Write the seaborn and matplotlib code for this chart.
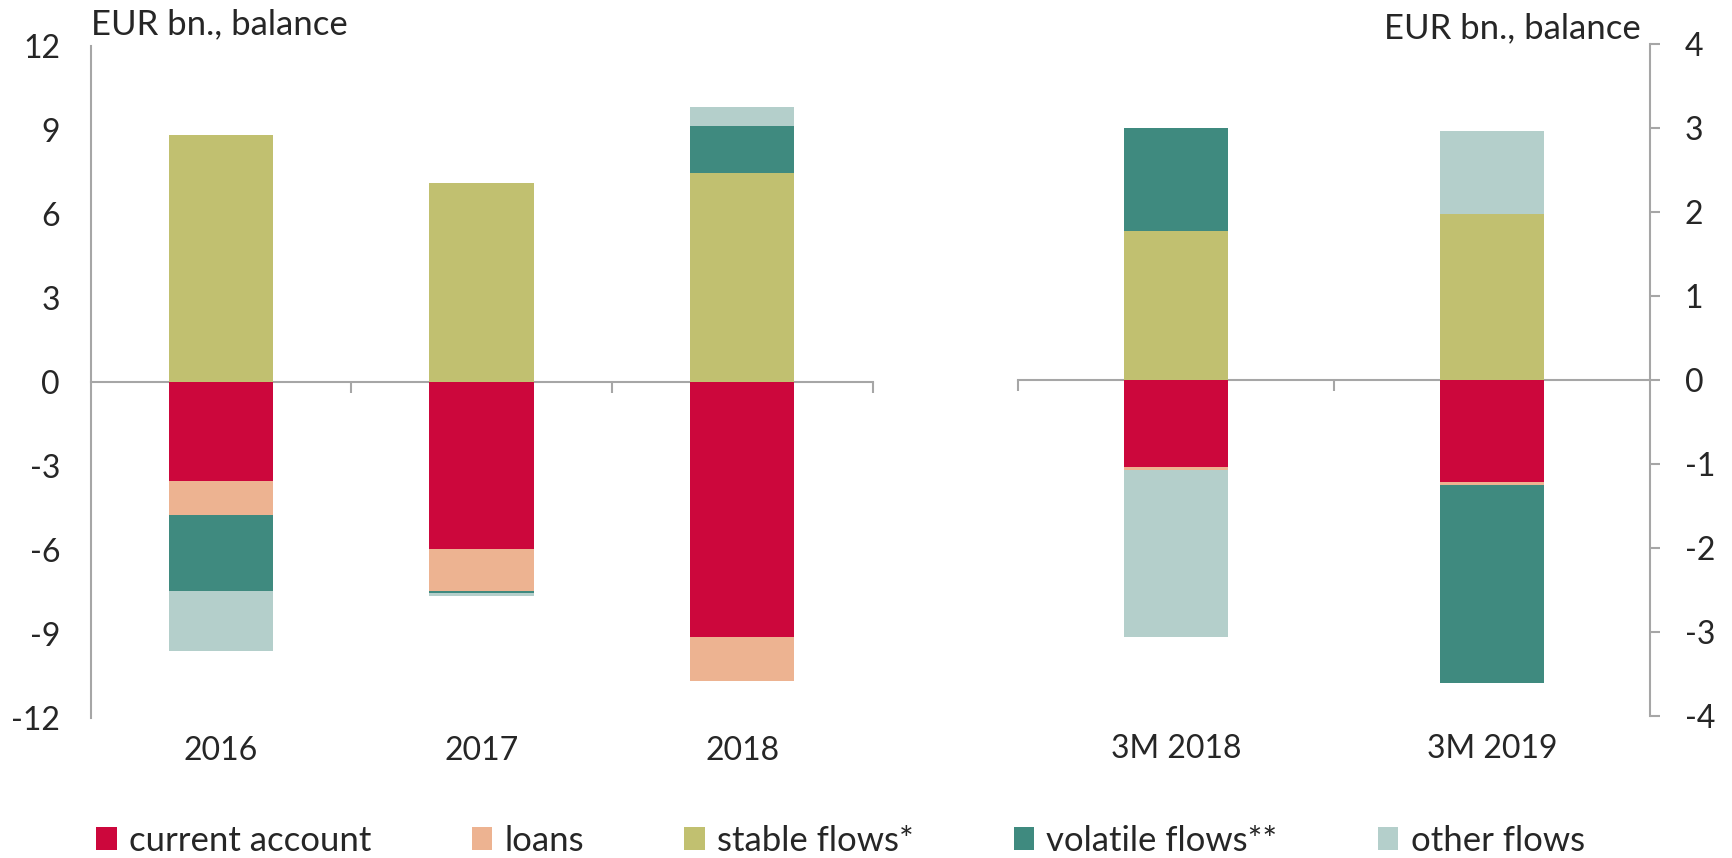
import numpy as np
import pandas as pd
import matplotlib.pyplot as plt
from matplotlib.patches import Patch
import seaborn as sns

# Categories and series
years = ["2016", "2017", "2018"]
quarters = ["3M 2018", "3M 2019"]
series = ["current account", "loans", "stable flows*", "volatile flows**", "other flows"]
colors = ["#CC073C", "#EDB391", "#C1C070", "#3F8A7F", "#B4CFCB"]

# Full years, EUR bn (left axis)
current_account_y = [-3.54, -5.98, -9.11]
loans_y = [-1.22, -1.48, -1.57]
stable_y = [8.81, 7.10, 7.45]
volatile_y = [-2.70, -0.07, 1.70]
other_y = [-2.15, -0.14, 0.66]

# First three months, EUR bn (right axis)
current_account_q = [-1.03, -1.22]
loans_q = [-0.045, -0.025]
stable_q = [1.77, 1.98]
volatile_q = [1.23, -2.36]
other_q = [-1.98, 0.98]

left_ticks = [-12, -9, -6, -3, 0, 3, 6, 9, 12]
right_ticks = [-4, -3, -2, -1, 0, 1, 2, 3, 4]

sns.set_style("white")
plt.rcParams["font.family"] = ["Lato", "DejaVu Sans"]
plt.rcParams["axes.unicode_minus"] = False

GRAY = "#A6A6A6"
FS = 23


def stacked_bars(ax, cats, values, width):
    # stack positives upward and negatives downward, in series order
    vals = np.array(values)
    pos = np.cumsum(np.clip(vals, 0, None), axis=0)
    neg = np.cumsum(np.clip(vals, None, 0), axis=0)
    for i in reversed(range(len(series))):
        for cum in (pos, neg):
            df = pd.DataFrame({"cat": cats, "val": cum[i]})
            sns.barplot(data=df, x="cat", y="val", color=colors[i], saturation=1,
                        width=width, errorbar=None, linewidth=0, ax=ax)


def style_axis(ax, cats, boundaries, ticks, side):
    ax.set_xlabel("")
    ax.set_ylabel("")
    ax.set_xlim(-0.5, len(cats) - 0.5)
    ax.set_ylim(ticks[0], ticks[-1])
    ax.set_yticks(ticks)
    for s in ["top", "bottom", "left", "right"]:
        ax.spines[s].set_visible(False)
    ax.spines[side].set_visible(True)
    ax.spines[side].set_color(GRAY)
    ax.spines[side].set_linewidth(1.5)
    ax.tick_params(axis="x", length=0, labelsize=FS, pad=13)
    ax.tick_params(axis="y", length=7, width=1.5, color=GRAY, labelsize=FS,
                   pad=15 if side == "left" else 18, direction="out")
    if side == "right":
        ax.yaxis.tick_right()
    # zero line with category separators
    zero = ax.secondary_xaxis(0, transform=ax.transData)
    zero.set_xticks(boundaries)
    zero.tick_params(length=8, width=1.5, color=GRAY, labelbottom=False, labeltop=False)
    for s in zero.spines.values():
        s.set_color(GRAY)
        s.set_linewidth(1.5)


fig = plt.figure(figsize=(17.32, 8.58), dpi=100)
ax1 = fig.add_axes([0.0523, 0.1635, 0.4515, 0.7832])
ax2 = fig.add_axes([0.5878, 0.1655, 0.3649, 0.7832])

stacked_bars(ax1, years, [current_account_y, loans_y, stable_y, volatile_y, other_y], 0.4)
stacked_bars(ax2, quarters, [current_account_q, loans_q, stable_q, volatile_q, other_q], 0.33)

style_axis(ax1, years, [0.5, 1.5, 2.5], left_ticks, "left")
style_axis(ax2, quarters, [-0.5, 0.5], right_ticks, "right")

ax1.set_title("EUR bn., balance", loc="left", fontsize=25, pad=8)
ax2.set_title("EUR bn., balance", loc="right", fontsize=25, pad=4, x=0.985)

handles = [Patch(facecolor=c, edgecolor="none") for c in colors]
fig.legend(handles, series, loc="center", bbox_to_anchor=(0.4853, 0.02), ncol=5,
           frameon=False, fontsize=25, handlelength=0.58, handleheight=0.66,
           handletextpad=0.35, columnspacing=2.9, borderpad=0)

fig.savefig("out.png", dpi=100)
